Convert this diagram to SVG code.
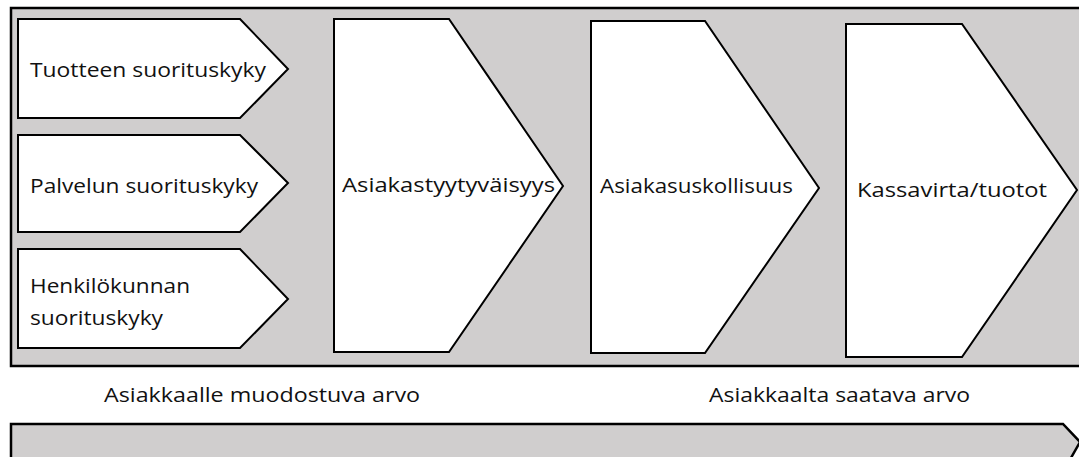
<svg xmlns="http://www.w3.org/2000/svg" width="1079" height="457" viewBox="0 0 1079 457">
  <style>
    .panel { fill: #d0cece; stroke: #000; stroke-width: 2.5; }
    .chev { fill: #fff; stroke: #000; stroke-width: 2; stroke-linejoin: miter; }
    .lbl { font-family: "Open Sans", "Noto Sans", sans-serif; font-size: 20.5px; fill: #111; }
  </style>
  <rect width="1079" height="457" fill="#fff"/>
  <!-- background panel -->
  <rect id="panel" class="panel" x="11" y="8" width="1080" height="358"/>

  <g id="tuote">
    <polygon class="chev" points="18,19 240,19 288,69 240,118 18,118"/>
    <text class="lbl" x="30" y="77" textLength="236" lengthAdjust="spacingAndGlyphs">Tuotteen suorituskyky</text>
  </g>
  <g id="palvelu">
    <polygon class="chev" points="18,135 240,135 288,183 240,232 18,232"/>
    <text class="lbl" x="30" y="193" textLength="228" lengthAdjust="spacingAndGlyphs">Palvelun suorituskyky</text>
  </g>
  <g id="henkilo">
    <polygon class="chev" points="18,249 240,249 288,299 240,348 18,348"/>
    <text class="lbl" x="30" y="293" textLength="160" lengthAdjust="spacingAndGlyphs">Henkilökunnan</text>
    <text class="lbl" x="30" y="325" textLength="133" lengthAdjust="spacingAndGlyphs">suorituskyky</text>
  </g>
  <g id="tyytyvaisyys">
    <polygon class="chev" points="334,19 449,19 563,186 449,352 334,352"/>
    <text class="lbl" x="342" y="192" textLength="213" lengthAdjust="spacingAndGlyphs">Asiakastyytyväisyys</text>
  </g>
  <g id="uskollisuus">
    <polygon class="chev" points="591,21 705,21 819,188 705,353 591,353"/>
    <text class="lbl" x="600" y="193" textLength="193" lengthAdjust="spacingAndGlyphs">Asiakasuskollisuus</text>
  </g>
  <g id="kassavirta">
    <polygon class="chev" points="846,24 962,24 1077,190 962,357 846,357"/>
    <text class="lbl" x="857" y="197" textLength="190" lengthAdjust="spacingAndGlyphs">Kassavirta/tuotot</text>
  </g>

  <g id="captions">
    <text class="lbl" x="104" y="402" textLength="316" lengthAdjust="spacingAndGlyphs">Asiakkaalle muodostuva arvo</text>
    <text class="lbl" x="709" y="402" textLength="261" lengthAdjust="spacingAndGlyphs">Asiakkaalta saatava arvo</text>
  </g>

  <!-- long flow arrow along the bottom -->
  <g id="flow">
    <polygon class="panel" points="11,424 1063,424 1080,442 1063,472 11,472"/>
  </g>
</svg>
